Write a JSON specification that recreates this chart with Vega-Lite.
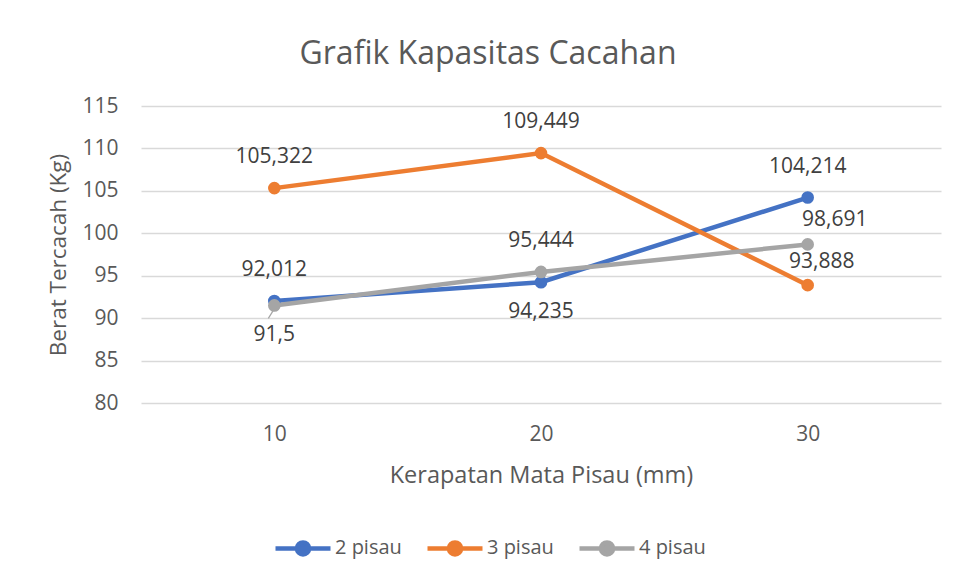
{
  "$schema": "https://vega.github.io/schema/vega-lite/v6.json",
  "width": 800,
  "height": 297,
  "autosize": {"type": "none"},
  "padding": {"left": 141, "top": 106, "right": 15, "bottom": 178},
  "background": "white",
  "config": {"font": "Open Sans", "view": {"stroke": null}},
  "title": {"text": "Grafik Kapasitas Cacahan", "fontSize": 32, "fontWeight": "normal", "color": "#595959", "anchor": "middle", "dx": -53, "offset": 24},
  "data": {"values": [
    {"x": 10, "seri": "2 pisau", "v": 92.012},
    {"x": 20, "seri": "2 pisau", "v": 94.235},
    {"x": 30, "seri": "2 pisau", "v": 104.214},
    {"x": 10, "seri": "3 pisau", "v": 105.322},
    {"x": 20, "seri": "3 pisau", "v": 109.449},
    {"x": 30, "seri": "3 pisau", "v": 93.888},
    {"x": 10, "seri": "4 pisau", "v": 91.5},
    {"x": 20, "seri": "4 pisau", "v": 95.444},
    {"x": 30, "seri": "4 pisau", "v": 98.691}
  ]},
  "transform": [{"calculate": "replace(toString(datum.v), '.', ',')", "as": "label"}],
  "encoding": {
    "x": {"field": "x", "type": "ordinal", "scale": {"type": "point", "padding": 0.5},
      "axis": {"labelAngle": 0, "labelFontSize": 21, "labelColor": "#595959", "ticks": false, "domain": false, "labelPadding": 20, "grid": false,
        "title": "Kerapatan Mata Pisau (mm)", "titleFontSize": 23.5, "titleFontWeight": "normal", "titleColor": "#595959", "titlePadding": 19}},
    "y": {"field": "v", "type": "quantitative", "scale": {"domain": [80, 115], "nice": false, "zero": false},
      "axis": {"values": [80, 85, 90, 95, 100, 105, 110, 115], "labelFontSize": 21, "labelColor": "#595959", "ticks": false, "domain": false, "labelPadding": 23,
        "grid": true, "gridColor": "#D9D9D9", "gridWidth": 1.3,
        "title": "Berat Tercacah (Kg)", "titleFontSize": 22.5, "titleFontWeight": "normal", "titleColor": "#595959", "titlePadding": 11}}
  },
  "layer": [
    {"transform": [{"filter": "datum.seri == '4 pisau' && datum.x == 10"}],
      "mark": {"type": "rule", "color": "#A5A5A5", "strokeWidth": 1.2, "xOffset": -1, "x2Offset": -6, "yOffset": 5, "y2Offset": 13},
      "encoding": {"x2": {"field": "x"}, "y2": {"field": "v"}}},
    {"mark": {"type": "line", "strokeWidth": 4.5},
      "encoding": {"color": {"field": "seri", "type": "nominal",
        "scale": {"domain": ["2 pisau", "3 pisau", "4 pisau"], "range": ["#4472C4", "#ED7D31", "#A5A5A5"]},
        "legend": {"orient": "none", "legendX": 132, "legendY": 412, "direction": "horizontal", "title": null,
          "labelFontSize": 20, "labelColor": "#595959", "symbolType": "M-1,0L1,0M0.22,0A0.22,0.22,0,1,1,-0.22,0A0.22,0.22,0,1,1,0.22,0Z",
          "symbolSize": 3025, "symbolStrokeWidth": 4.5, "columnPadding": 16, "labelOffset": 2}}}},
    {"mark": {"type": "point", "filled": true, "size": 160, "opacity": 1},
      "encoding": {"color": {"field": "seri", "type": "nominal"}}},
    {"transform": [{"filter": "!((datum.seri == '2 pisau' && datum.x == 20) || (datum.seri == '4 pisau' && datum.x == 10) || (datum.x == 30 && datum.seri != '2 pisau'))"}],
      "mark": {"type": "text", "fontSize": 21, "color": "#404040", "dy": -31},
      "encoding": {"text": {"field": "label"}}},
    {"transform": [{"filter": "(datum.seri == '2 pisau' && datum.x == 20) || (datum.seri == '4 pisau' && datum.x == 10)"}],
      "mark": {"type": "text", "fontSize": 21, "color": "#404040", "dy": 30},
      "encoding": {"text": {"field": "label"}}},
    {"transform": [{"filter": "datum.seri == '3 pisau' && datum.x == 30"}],
      "mark": {"type": "text", "fontSize": 21, "color": "#404040", "dy": -23, "dx": 14},
      "encoding": {"text": {"field": "label"}}},
    {"transform": [{"filter": "datum.seri == '4 pisau' && datum.x == 30"}],
      "mark": {"type": "text", "fontSize": 21, "color": "#404040", "dy": -24, "dx": 27},
      "encoding": {"text": {"field": "label"}}}
  ]
}
